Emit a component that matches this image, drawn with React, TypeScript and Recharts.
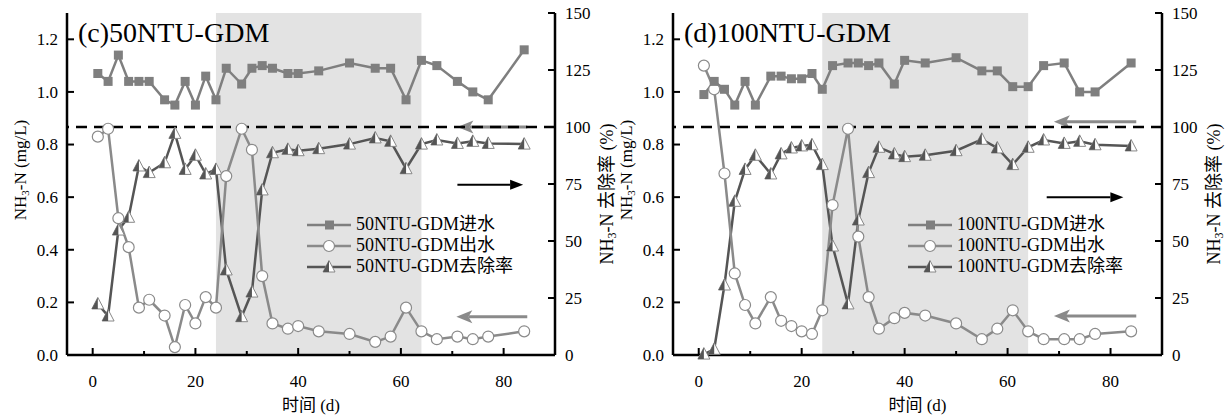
import {
  ComposedChart,
  Label,
  Legend,
  Line,
  ReferenceArea,
  ReferenceLine,
  XAxis,
  YAxis,
} from "recharts";

const FONT = "'Liberation Serif', 'Times New Roman', 'Noto Sans CJK SC', serif";

// sampling days (d), shared by both reactors
const days = [1, 3, 5, 7, 9, 11, 14, 16, 18, 20, 22, 24, 26, 29, 31, 33, 35, 38, 40, 44, 50, 55, 58, 61, 64, 67, 71, 74, 77, 84];

// (c) 50NTU-GDM, NH3-N mg/L and removal %
const c50Influent = [1.07, 1.04, 1.14, 1.04, 1.04, 1.04, 0.97, 0.95, 1.04, 0.95, 1.06, 0.97, 1.09, 1.03, 1.09, 1.1, 1.09, 1.07, 1.07, 1.08, 1.11, 1.09, 1.09, 0.97, 1.12, 1.1, 1.04, 1.0, 0.97, 1.16];
const c50Effluent = [0.83, 0.86, 0.52, 0.41, 0.18, 0.21, 0.15, 0.03, 0.19, 0.12, 0.22, 0.18, 0.68, 0.86, 0.78, 0.3, 0.12, 0.1, 0.11, 0.09, 0.08, 0.05, 0.07, 0.18, 0.09, 0.06, 0.07, 0.06, 0.07, 0.09];
const c50Removal = [22.4, 17.1, 54.8, 60.4, 82.9, 80.0, 84.3, 97.2, 81.4, 87.6, 79.4, 81.4, 37.3, 16.8, 27.6, 72.4, 88.7, 90.2, 89.6, 90.5, 92.5, 95.2, 93.7, 81.7, 92.5, 94.3, 92.8, 93.7, 92.8, 92.5];

// (d) 100NTU-GDM
const d100Influent = [0.99, 1.04, 1.01, 0.95, 1.04, 0.95, 1.06, 1.06, 1.05, 1.05, 1.07, 1.01, 1.1, 1.11, 1.11, 1.1, 1.11, 1.03, 1.12, 1.11, 1.13, 1.08, 1.08, 1.02, 1.02, 1.1, 1.11, 1.0, 1.0, 1.11];
const d100Effluent = [1.1, 1.01, 0.69, 0.31, 0.19, 0.12, 0.22, 0.13, 0.11, 0.09, 0.08, 0.17, 0.57, 0.86, 0.45, 0.22, 0.1, 0.14, 0.16, 0.15, 0.12, 0.06, 0.1, 0.17, 0.09, 0.06, 0.06, 0.06, 0.08, 0.09];
const d100Removal = [0.4, 2.5, 30.7, 67.4, 81.4, 87.6, 79.4, 88.2, 90.8, 91.7, 92.2, 83.5, 47.8, 22.4, 59.2, 80.0, 91.1, 88.2, 87.0, 87.6, 89.6, 94.6, 90.8, 83.5, 91.1, 94.3, 92.8, 93.7, 92.2, 91.7];

const xTicks = [0, 10, 20, 30, 40, 50, 60, 70, 80];
const leftTicks = [0, 0.2, 0.4, 0.6, 0.8, 1.0, 1.2];
const rightTicks = [0, 25, 50, 75, 100, 125, 150];
const shadedPeriod = [24, 64];

const IN_COLOR = "#7f7f7f";
const OUT_COLOR = "#8a8a8a";
const RATE_COLOR = "#555555";

function SquareDot(props: any) {
  const { cx, cy } = props;
  if (cx == null || cy == null) return null;
  return <rect x={cx - 4.5} y={cy - 4.5} width={9} height={9} fill={IN_COLOR} />;
}

function CircleDot(props: any) {
  const { cx, cy } = props;
  if (cx == null || cy == null) return null;
  return <circle cx={cx} cy={cy} r={5.5} fill="#fff" stroke={OUT_COLOR} strokeWidth={1.2} />;
}

function TriangleDot(props: any) {
  const { cx, cy } = props;
  if (cx == null || cy == null) return null;
  return (
    <g>
      <polygon points={`${cx},${cy - 6.5} ${cx - 6},${cy + 5} ${cx + 6},${cy + 5}`} fill="#fff" stroke="#888" strokeWidth={1} />
      <polygon points={`${cx},${cy - 6.5} ${cx - 6},${cy + 5} ${cx},${cy + 5}`} fill={RATE_COLOR} />
    </g>
  );
}

function XTick(props: any) {
  const { x, y, payload } = props;
  const major = payload.value % 20 === 0;
  return (
    <g>
      <line x1={x} y1={y} x2={x} y2={y - (major ? 7 : 4)} stroke="#000" strokeWidth={2} />
      {major && (
        <text x={x} y={y + 32} textAnchor="middle" fontSize={17} fontFamily={FONT} fill="#000">
          {payload.value}
        </text>
      )}
    </g>
  );
}

function LeftTick(props: any) {
  const { x, y, payload } = props;
  return (
    <g>
      <line x1={x} y1={y} x2={x + 7} y2={y} stroke="#000" strokeWidth={2} />
      <text x={x - 9} y={y} dy="0.35em" textAnchor="end" fontSize={17} fontFamily={FONT} fill="#000">
        {payload.value.toFixed(1)}
      </text>
    </g>
  );
}

function RightTick(props: any) {
  const { x, y, payload } = props;
  return (
    <g>
      <line x1={x} y1={y} x2={x - 7} y2={y} stroke="#000" strokeWidth={2} />
      <text x={x + 10} y={y} dy="0.35em" textAnchor="start" fontSize={17} fontFamily={FONT} fill="#000">
        {payload.value}
      </text>
    </g>
  );
}

function arrow(color: string, width: number, head: number, half: number, notch: number) {
  return (p: any) => {
    const { x1, y1, x2, y2 } = p;
    const dir = Math.sign(x2 - x1) || 1;
    const bx = x2 - dir * head;
    const nx = bx + dir * notch;
    return (
      <g>
        <line x1={x1} y1={y1} x2={nx} y2={y2} stroke={color} strokeWidth={width} />
        <polygon points={`${x2},${y2} ${bx},${y2 - half} ${nx},${y2} ${bx},${y2 + half}`} fill={color} />
      </g>
    );
  };
}

type ArrowDef = { from: number; to: number; at: number; color: string; kind: "black" | "gray" };

type PanelProps = {
  left: number;
  width: number;
  rightWidth: number;
  title: string;
  name: string;
  influent: number[];
  effluent: number[];
  removal: number[];
  arrows: ArrowDef[];
  legendLeft: number;
};

function Panel(p: PanelProps) {
  const data = days.map((d, i) => ({
    day: d,
    inf: p.influent[i],
    eff: p.effluent[i],
    rate: p.removal[i],
  }));
  const items = [
    { label: `${p.name}进水`, color: IN_COLOR, dot: "square" },
    { label: `${p.name}出水`, color: OUT_COLOR, dot: "circle" },
    { label: `${p.name}去除率`, color: RATE_COLOR, dot: "tri" },
  ];
  const legend = () => (
    <div style={{ fontFamily: FONT, fontSize: 18, lineHeight: "21px", color: "#000" }}>
      {items.map((it) => (
        <div key={it.label} style={{ display: "flex", alignItems: "center", whiteSpace: "nowrap" }}>
          <svg width={46} height={14}>
            <line x1={0} y1={7} x2={44} y2={7} stroke={it.color} strokeWidth={2.5} />
            {it.dot === "square" && <rect x={18} y={2.5} width={9} height={9} fill={IN_COLOR} />}
            {it.dot === "circle" && <circle cx={22} cy={7} r={5.5} fill="#fff" stroke={OUT_COLOR} strokeWidth={1.2} />}
            {it.dot === "tri" && (
              <g>
                <polygon points="22,0.5 16,12 28,12" fill="#fff" stroke="#888" strokeWidth={1} />
                <polygon points="22,0.5 16,12 22,12" fill={RATE_COLOR} />
              </g>
            )}
          </svg>
          <span style={{ marginLeft: 3 }}>{it.label}</span>
        </div>
      ))}
    </div>
  );

  return (
    <div style={{ position: "absolute", left: p.left, top: 0 }}>
      <ComposedChart width={p.width} height={416} data={data} margin={{ top: 13, right: 4, bottom: 0, left: 0 }}>
        <ReferenceArea
          x1={shadedPeriod[0]}
          x2={shadedPeriod[1]}
          yAxisId="left"
          fill="#e3e3e3"
          fillOpacity={1}
          stroke="none"
          ifOverflow="visible"
        />
        <XAxis
          dataKey="day"
          type="number"
          domain={[-5, 90]}
          ticks={xTicks}
          interval={0}
          tickSize={0}
          tickMargin={0}
          tickLine={false}
          tick={<XTick />}
          height={61}
          axisLine={{ stroke: "#000", strokeWidth: 2.5 }}
        >
          <Label
            content={(lp: any) => {
              const vb = lp.viewBox;
              return (
                <text x={vb.x + vb.width / 2} y={vb.y + 56} textAnchor="middle" fontSize={17} fontFamily={FONT} fill="#000">
                  时间 (d)
                </text>
              );
            }}
          />
        </XAxis>
        <XAxis
          xAxisId="top"
          orientation="top"
          dataKey="day"
          type="number"
          domain={[-5, 90]}
          height={0}
          tick={false}
          tickLine={false}
          axisLine={{ stroke: "#000", strokeWidth: 2.5 }}
        />
        <YAxis
          yAxisId="left"
          domain={[0, 1.3]}
          ticks={leftTicks}
          interval={0}
          width={67}
          tickSize={0}
          tickMargin={0}
          tickLine={false}
          tick={<LeftTick />}
          axisLine={{ stroke: "#000", strokeWidth: 2.5 }}
        >
          <Label
            content={(lp: any) => {
              const vb = lp.viewBox;
              const cx = vb.x + 20;
              const cy = 170;
              const plotLeft = vb.x + vb.width;
              return (
                <g>
                  <text transform={`translate(${cx},${cy}) rotate(-90)`} textAnchor="middle" dominantBaseline="central" fontSize={17} fontFamily={FONT} fill="#000">
                    NH<tspan fontSize={11} dy={5}>3</tspan>
                    <tspan dy={-5}>-N (mg/L)</tspan>
                  </text>
                  <text x={plotLeft + 11} y={vb.y + 29} fontSize={28} fontFamily={FONT} fill="#000">
                    {p.title}
                  </text>
                </g>
              );
            }}
          />
        </YAxis>
        <YAxis
          yAxisId="right"
          orientation="right"
          domain={[0, 150]}
          ticks={rightTicks}
          interval={0}
          width={p.rightWidth}
          tickSize={0}
          tickMargin={0}
          tickLine={false}
          tick={<RightTick />}
          axisLine={{ stroke: "#000", strokeWidth: 2.5 }}
        >
          <Label
            content={(lp: any) => {
              const vb = lp.viewBox;
              const cx = vb.x + 52;
              const cy = 194;
              return (
                <text transform={`translate(${cx},${cy}) rotate(-90)`} textAnchor="middle" dominantBaseline="central" fontSize={18} fontFamily={FONT} fill="#000">
                  NH<tspan fontSize={12} dy={5}>3</tspan>
                  <tspan dy={-5}>-N 去除率 (%)</tspan>
                </text>
              );
            }}
          />
        </YAxis>
        {p.arrows.map((a, i) => (
          <ReferenceLine
            key={i}
            yAxisId="right"
            segment={[
              { x: a.from, y: a.at },
              { x: a.to, y: a.at },
            ]}
            shape={a.kind === "black" ? arrow(a.color, 2, 13, 5, 0) : arrow(a.color, 3, 16, 6.5, 4)}
          />
        ))}
        <ReferenceLine yAxisId="right" y={100} stroke="#000" strokeWidth={2.5} strokeDasharray="11 7" />
        <Line yAxisId="right" dataKey="rate" stroke={RATE_COLOR} strokeWidth={2.5} dot={<TriangleDot />} isAnimationActive={false} />
        <Line yAxisId="left" dataKey="eff" stroke={OUT_COLOR} strokeWidth={2.5} dot={<CircleDot />} isAnimationActive={false} />
        <Line yAxisId="left" dataKey="inf" stroke={IN_COLOR} strokeWidth={2.5} dot={<SquareDot />} isAnimationActive={false} />
        <Legend
          layout="vertical"
          align="center"
          verticalAlign="middle"
          content={legend}
          wrapperStyle={{ left: p.legendLeft, top: 214, width: 260 }}
        />
      </ComposedChart>
    </div>
  );
}

export default function App() {
  return (
    <div style={{ position: "absolute", left: 0, top: 0, width: 1232, height: 416, background: "#fff" }}>
      <Panel
        left={0}
        width={620}
        rightWidth={61}
        title="(c)50NTU-GDM"
        name="50NTU-GDM"
        influent={c50Influent}
        effluent={c50Effluent}
        removal={c50Removal}
        legendLeft={307}
        arrows={[
          { from: 84.6, to: 71, at: 100, color: "#8a8a8a", kind: "gray" },
          { from: 71, to: 83.8, at: 74.7, color: "#000", kind: "black" },
          { from: 84.6, to: 70.8, at: 16.8, color: "#8a8a8a", kind: "gray" },
        ]}
      />
      <Panel
        left={606}
        width={630}
        rightWidth={70}
        title="(d)100NTU-GDM"
        name="100NTU-GDM"
        influent={d100Influent}
        effluent={d100Effluent}
        removal={d100Removal}
        legendLeft={302}
        arrows={[
          { from: 85, to: 69, at: 102.3, color: "#8a8a8a", kind: "gray" },
          { from: 67.6, to: 82.5, at: 69.2, color: "#000", kind: "black" },
          { from: 85, to: 69, at: 17.1, color: "#8a8a8a", kind: "gray" },
        ]}
      />
    </div>
  );
}
